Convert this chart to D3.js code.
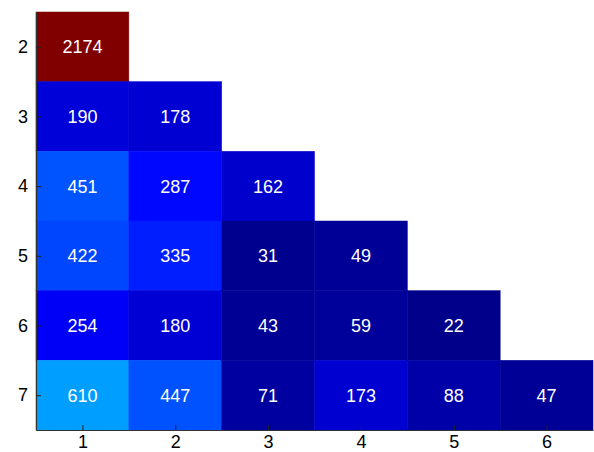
<!DOCTYPE html>
<html>
<head>
<meta charset="utf-8">
<script src="https://cdn.jsdelivr.net/npm/d3@7"></script>
<style>
  body { margin: 0; background: #fff; }
  svg text { font-family: "Liberation Sans", Arial, sans-serif; }
</style>
</head>
<body>
<svg id="chart"></svg>
<script>
var width = 594;
var height = 452;
var margin = {top: 12, right: 1, bottom: 22, left: 36};

// row / column labels
var rows = [2, 3, 4, 5, 6, 7];
var cols = [1, 2, 3, 4, 5, 6];

// lower-triangular counts, one array per row
var row2 = [2174];
var row3 = [190, 178];
var row4 = [451, 287, 162];
var row5 = [422, 335, 31, 49];
var row6 = [254, 180, 43, 59, 22];
var row7 = [610, 447, 71, 173, 88, 47];
var values = [row2, row3, row4, row5, row6, row7];

var cells = [];
values.forEach(function(r, i) {
  r.forEach(function(v, j) {
    cells.push({row: rows[i], col: cols[j], value: v});
  });
});

// matlab style jet colormap
function jet(t) {
  t = Math.max(0, Math.min(1, t));
  function ch(x) { return Math.max(0, Math.min(1, 1.5 - Math.abs(4 * t - x))); }
  var r = ch(3), g = ch(2), b = ch(1);
  return d3.rgb(r * 255, g * 255, b * 255);
}

var vmax = d3.max(cells, function(d) { return d.value; });
var cScale = d3.scaleLinear().domain([0, vmax]).range([0, 1]);

var xScale = d3.scaleLinear()
  .domain([0.5, 6.5])
  .range([margin.left, width - margin.right]);
var yScale = d3.scaleLinear()
  .domain([1.5, 7.5])
  .range([margin.top, height - margin.bottom]);

var svg = d3.select("#chart")
  .attr("width", width)
  .attr("height", height);

var cw = xScale(1.5) - xScale(0.5);
var ch = yScale(2.5) - yScale(1.5);

svg.selectAll("rect.cell")
  .data(cells)
  .enter()
  .append("rect")
  .attr("class", "cell")
  .attr("x", function(d) { return xScale(d.col - 0.5); })
  .attr("y", function(d) { return yScale(d.row - 0.5); })
  .attr("width", cw)
  .attr("height", ch)
  .attr("fill", function(d) { return jet(cScale(d.value)); })
  .attr("stroke", function(d) { return jet(cScale(d.value)); })
  .attr("stroke-width", 0.5);

svg.selectAll("text.val")
  .data(cells)
  .enter()
  .append("text")
  .attr("class", "val")
  .attr("x", function(d) { return xScale(d.col); })
  .attr("y", function(d) { return yScale(d.row); })
  .attr("dy", "0.36em")
  .attr("text-anchor", "middle")
  .attr("fill", "#fff")
  .attr("font-size", "18px")
  .text(function(d) { return d.value; });

//axes, ticks pointing inward like matlab
var xAxis = d3.axisBottom(xScale)
  .tickValues(cols)
  .tickFormat(d3.format("d"))
  .tickSizeInner(-5)
  .tickSizeOuter(0)
  .tickPadding(5);
var yAxis = d3.axisLeft(yScale)
  .tickValues(rows)
  .tickFormat(d3.format("d"))
  .tickSizeInner(-5)
  .tickSizeOuter(0)
  .tickPadding(8);

var gx = svg.append("g")
  .attr("transform", "translate(0," + (height - margin.bottom) + ")")
  .call(xAxis);
var gy = svg.append("g")
  .attr("transform", "translate(" + margin.left + ",0)")
  .call(yAxis);

[gx, gy].forEach(function(g) {
  g.select(".domain").attr("stroke", "#333").attr("stroke-width", 1.2);
  g.selectAll(".tick line").attr("stroke", "#222");
  g.selectAll(".tick text")
    .attr("font-size", "18px")
    .attr("fill", "#000")
    .style("font-family", "'Liberation Sans', Arial, sans-serif");
});
</script>
</body>
</html>
